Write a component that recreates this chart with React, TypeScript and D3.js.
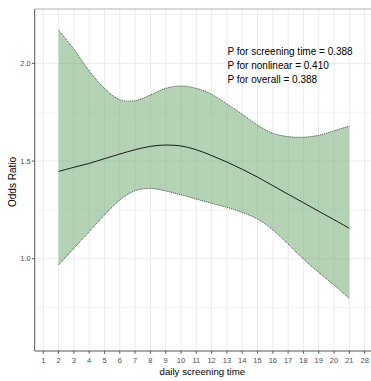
import React from "react";
import * as d3 from "d3";

const xs = [2, 3, 4, 5, 6, 7, 8, 9, 10, 11, 12, 13, 14, 15, 16, 17, 18, 19, 20, 21];
const orValues = [1.447, 1.468, 1.488, 1.512, 1.536, 1.558, 1.575, 1.582, 1.577, 1.558, 1.528, 1.495, 1.458, 1.418, 1.374, 1.33, 1.287, 1.243, 1.2, 1.156];
const upperValues = [2.17, 2.072, 1.962, 1.872, 1.814, 1.809, 1.838, 1.872, 1.884, 1.872, 1.842, 1.792, 1.74, 1.684, 1.642, 1.625, 1.622, 1.632, 1.655, 1.679];
const lowerValues = [0.968, 1.053, 1.138, 1.224, 1.3, 1.348, 1.36, 1.347, 1.327, 1.305, 1.284, 1.263, 1.237, 1.203, 1.147, 1.075, 0.998, 0.93, 0.865, 0.797];
const xTickPositions = [1, 2, 3, 4, 5, 6, 7, 8, 9, 10, 11, 12, 13, 14, 15, 16, 17, 18, 19, 20, 21, 22];
const xTickLabels = ["1", "2", "3", "4", "5", "6", "7", "8", "9", "10", "11", "12", "13", "14", "15", "16", "17", "18", "19", "20", "21", "28"];
const yMajorTicks = [1.0, 1.5, 2.0];
const yGridLines = [0.75, 1.0, 1.25, 1.5, 1.75, 2.0, 2.25];
const annotations = ["P for screening time = 0.388", "P for nonlinear = 0.410", "P for overall = 0.388"];

const W = 371;
const H = 381;
const left = 34.7;
const right = 371;
const top = 9;
const bottom = 351;

export default function App() {
  const x = d3.scaleLinear().domain([0.44, 22.35]).range([left, 370]);
  const y = d3.scaleLinear().domain([0.528, 2.278]).range([bottom, top]);
  const data = xs.map((v, i) => ({ x: v, m: orValues[i], u: upperValues[i], l: lowerValues[i] }));
  const curve = d3.curveCatmullRom.alpha(0.5);
  const area = d3.area<any>().x((d) => x(d.x)).y0((d) => y(d.l)).y1((d) => y(d.u)).curve(curve);
  const upLine = d3.line<any>().x((d) => x(d.x)).y((d) => y(d.u)).curve(curve);
  const loLine = d3.line<any>().x((d) => x(d.x)).y((d) => y(d.l)).curve(curve);
  const mLine = d3.line<any>().x((d) => x(d.x)).y((d) => y(d.m)).curve(curve);
  const font = "'Liberation Sans', Arial, sans-serif";

  return (
    <svg width={W} height={H} style={{ position: "absolute", left: 0, top: 0 }} fontFamily={font}>
      <rect x={0} y={0} width={W} height={H} fill="#ffffff" />
      {yGridLines.map((v) => (
        <line key={"gy" + v} x1={left} x2={right} y1={y(v)} y2={y(v)} stroke="#ebebeb" strokeWidth={v === 1 || v === 1.5 || v === 2 ? 1 : 0.6} />
      ))}
      {xTickPositions.map((v) => (
        <line key={"gx" + v} x1={x(v)} x2={x(v)} y1={top} y2={bottom} stroke="#ebebeb" strokeWidth={1} />
      ))}
      <path d={area(data) || ""} fill="#6aa56a" fillOpacity={0.5} />
      <path d={upLine(data) || ""} fill="none" stroke="#222" strokeWidth={0.8} strokeDasharray="1 1" />
      <path d={loLine(data) || ""} fill="none" stroke="#222" strokeWidth={0.8} strokeDasharray="1 1" />
      <path d={mLine(data) || ""} fill="none" stroke="#1a1a1a" strokeWidth={1} />
      <line x1={left} x2={right} y1={top} y2={top} stroke="#b3b3b3" strokeWidth={1} />
      <line x1={left} x2={left} y1={top} y2={bottom} stroke="#555" strokeWidth={1} />
      <line x1={left} x2={right} y1={bottom} y2={bottom} stroke="#555" strokeWidth={1} />
      {yMajorTicks.map((v) => (
        <g key={"yt" + v}>
          <line x1={left - 2.7} x2={left} y1={y(v)} y2={y(v)} stroke="#555" strokeWidth={1} />
          <text x={left - 4} y={y(v)} dy="0.35em" textAnchor="end" fontSize={7.5} fill="#4d4d4d">
            {v.toFixed(1)}
          </text>
        </g>
      ))}
      {xTickPositions.map((v, i) => (
        <g key={"xt" + v}>
          <line x1={x(v)} x2={x(v)} y1={bottom} y2={bottom + 2.7} stroke="#555" strokeWidth={1} />
          <text x={x(v)} y={bottom + 11.5} textAnchor="middle" fontSize={7.5} fill="#4d4d4d">
            {xTickLabels[i]}
          </text>
        </g>
      ))}
      <text x={(left + 370) / 2} y={375} textAnchor="middle" fontSize={9.7} fill="#000">
        daily screening time
      </text>
      <text transform={`translate(15.5,182) rotate(-90)`} textAnchor="middle" fontSize={10} fill="#000">
        Odds Ratio
      </text>
      {annotations.map((t, i) => (
        <text key={t} x={227.5} y={54.5 + i * 14.4} fontSize={10} fill="#000">
          {t}
        </text>
      ))}
    </svg>
  );
}
